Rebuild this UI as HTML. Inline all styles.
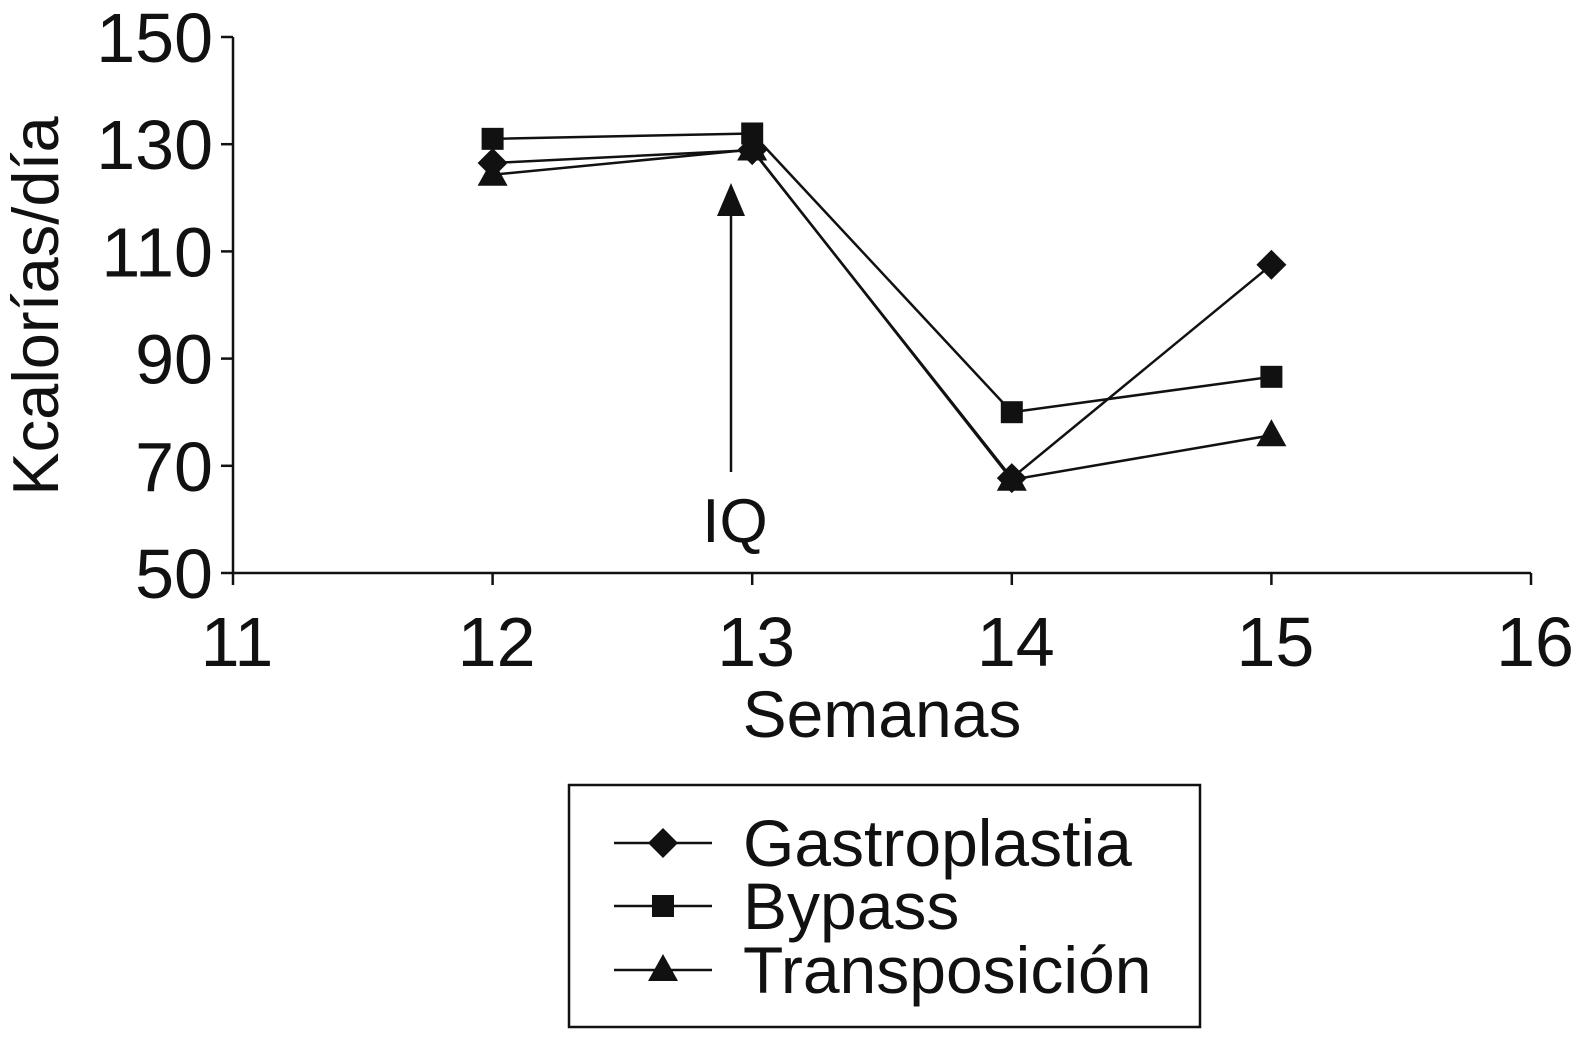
<!DOCTYPE html>
<html><head><meta charset="utf-8"><style>
body{margin:0;background:#fff;}
svg{display:block;font-family:"Liberation Sans",sans-serif;}
</style></head><body>
<svg id="chart" width="1583" height="1039" viewBox="0 0 1583 1039">
<g id="axes"></g>
<g id="series"></g>
<g>
<line x1="731" y1="472" x2="731" y2="210" stroke="#111" stroke-width="2.5"/>
<polygon points="731,183 717,216 745,216" fill="#111"/>
<text x="735" y="542" font-size="62" text-anchor="middle" fill="#111">IQ</text>
</g>
<text x="882" y="737" font-size="66" text-anchor="middle" fill="#111">Semanas</text>
<text transform="translate(58,306) rotate(-90)" font-size="65" text-anchor="middle" fill="#111">Kcalorías/día</text>
<g>
<rect x="569" y="785" width="631" height="242" fill="#fff" stroke="#111" stroke-width="2.5"/>
<g id="legend-items"></g>
</g>
</svg>
<script>
const weeks=[12,13,14,15];
const gastro=[126.5,128.9,67.7,107.5];
const bypass=[131,132,80,86.6];
const transp=[124.3,129,67.4,75.7];
const xTicks=[11,12,13,14,15,16];
const yTicks=[50,70,90,110,130,150];
const seriesNames=["Gastroplastia","Bypass","Transposición"];
const NS="http://www.w3.org/2000/svg";
const X=v=>233+(v-11)*259.6;
const Y=v=>573-(v-50)*5.36;
function mk(tag,attrs,parent){const e=document.createElementNS(NS,tag);for(const k in attrs)e.setAttribute(k,attrs[k]);parent.appendChild(e);return e;}
const ax=document.getElementById('axes');
mk('line',{x1:233,y1:37,x2:233,y2:573,stroke:'#111','stroke-width':2.5},ax);
mk('line',{x1:233,y1:573,x2:1531,y2:573,stroke:'#111','stroke-width':2.5},ax);
yTicks.forEach(t=>{
 const l=mk('line',{x1:221,y1:Y(t),x2:233,y2:Y(t),stroke:'#111','stroke-width':2.5},ax);
 
 
 const tx=mk('text',{x:213,y:Y(t)+25,'font-size':70,'text-anchor':'end',fill:'#111'},ax);tx.textContent=t;
 
 
});
xTicks.forEach(t=>{
 const l=mk('line',{x1:X(t),y1:573,x2:X(t),y2:585,stroke:'#111','stroke-width':2.5},ax);
 
 
 const tx=mk('text',{x:X(t)+4,y:666,'font-size':70,'text-anchor':'middle',fill:'#111'},ax);tx.textContent=t;
 
 
});
function marker(type,x,y,p){
 if(type===0)return mk('polygon',{points:`${x},${y-15} ${x+15},${y} ${x},${y+15} ${x-15},${y}`,fill:'#111'},p);
 if(type===1)return mk('rect',{x:x-11,y:y-11,width:22,height:22,fill:'#111'},p);
 return mk('polygon',{points:`${x},${y-16} ${x+15},${y+11} ${x-15},${y+11}`,fill:'#111'},p);
}
const sg=document.getElementById('series');
[gastro,bypass,transp].forEach((vals,i)=>{
 const g=mk('g',{},sg);
 
 
 mk('polyline',{points:vals.map((v,j)=>X(weeks[j])+','+Y(v)).join(' '),fill:'none',stroke:'#111','stroke-width':2.5},g);
 vals.forEach((v,j)=>{const m=marker(i,X(weeks[j]),Y(v),g);
  
  });
});
const lg=document.getElementById('legend-items');
[843,906,970].forEach((y,i)=>{
 const g=mk('g',{},lg);
 
 
 mk('line',{x1:614,y1:y,x2:712,y2:y,stroke:'#111','stroke-width':2.5},g);
 marker(i,663,y,g);
 const t=mk('text',{x:743,y:y+23,'font-size':66,fill:'#111'},g);t.textContent=seriesNames[i];
});
</script>
</body></html>
